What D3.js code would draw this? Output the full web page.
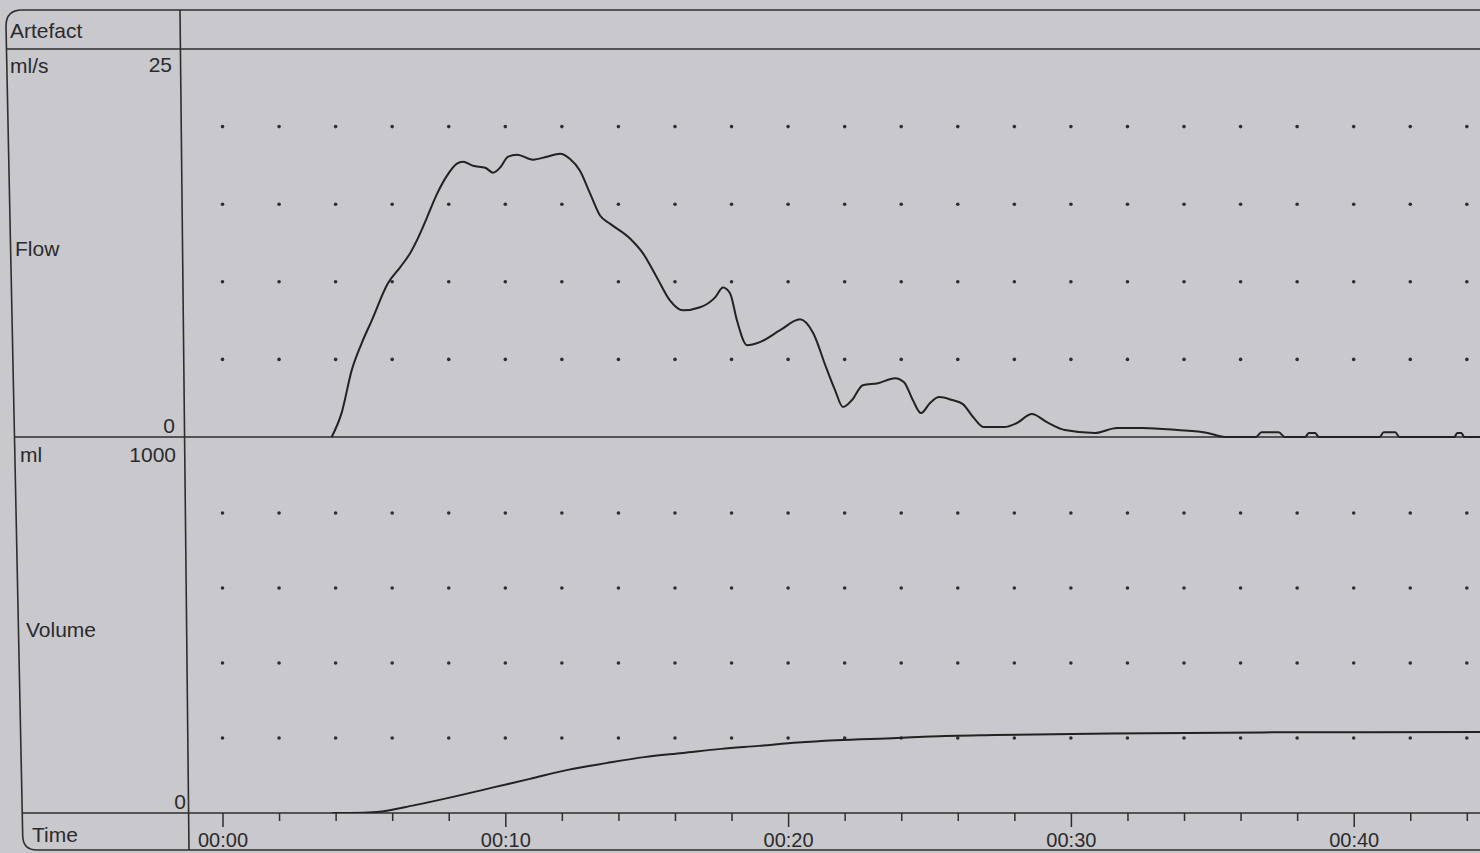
<!DOCTYPE html>
<html>
<head>
<meta charset="utf-8">
<script src="https://cdn.jsdelivr.net/npm/d3@7"></script>
<style>
  html, body { margin: 0; padding: 0; background: #c8c8cd; }
  svg { display: block; }
  text { font-family: "Liberation Sans", Arial, sans-serif; fill: #2b2b2b; }
</style>
</head>
<body>
<svg id="chart" width="1480" height="853"></svg>
<script>
(function() {
  // {{{ data
  // flow curve, seconds and ml/s
  var flowTime = [3.86, 4.21, 4.57, 4.92, 5.28, 5.85, 6.28, 6.63, 6.92, 7.23, 7.59, 7.94, 8.29, 8.50,
    8.86, 9.29, 9.57, 9.81, 10.10, 10.41, 10.98, 11.47, 11.94, 12.28, 12.64, 13.00, 13.35, 13.70,
    14.41, 14.87, 15.36, 15.82, 16.28, 16.89, 17.42, 17.70, 17.95, 18.19, 18.55, 19.00, 19.72,
    20.42, 20.89, 21.34, 21.66, 21.94, 22.26, 22.64, 23.18, 23.78, 24.10, 24.41, 24.70, 25.02,
    25.34, 25.80, 26.18, 26.54, 26.92, 27.64, 28.09, 28.62, 29.15, 29.79, 30.85, 31.63, 32.55,
    33.76, 34.84, 35.45, 36.54, 36.74, 37.35, 37.56, 38.27, 38.42, 38.63, 38.78, 40.91, 41.06,
    41.47, 41.62, 43.56, 43.66, 43.81, 43.91, 45.20];
  var flowRate = [0, 1.54, 4.31, 6.04, 7.52, 9.90, 10.93, 11.83, 12.85, 14.14, 15.68, 16.84, 17.61, 17.74,
    17.48, 17.35, 17.03, 17.35, 18.06, 18.19, 17.87, 18.06, 18.25, 17.93, 17.16, 15.68, 14.27, 13.75,
    12.79, 11.83, 10.28, 8.80, 8.16, 8.36, 9.00, 9.64, 9.25, 7.52, 5.91, 6.11, 6.88,
    7.58, 6.68, 4.50, 3.02, 1.93, 2.38, 3.34, 3.47, 3.79, 3.53, 2.38, 1.54, 2.19,
    2.57, 2.38, 2.12, 1.29, 0.64, 0.64, 0.90, 1.48, 0.96, 0.45, 0.26, 0.58, 0.58,
    0.45, 0.26, 0, 0, 0.30, 0.30, 0, 0, 0.25, 0.25, 0, 0, 0.30,
    0.30, 0, 0, 0.25, 0.25, 0, 0];

  // voided volume, seconds and ml
  var volTime = [3.86, 4.51, 5.46, 6.80, 8.15, 9.50, 10.87, 12.21, 13.57, 14.91, 16.28, 17.63, 18.97,
    20.35, 21.70, 23.85, 25.02, 27.32, 31.39, 36.79, 45.20];
  var volValue = [0, 0, 2.7, 21, 43, 67, 91, 115, 133, 149, 160, 171, 179,
    188, 194, 200, 204, 208, 212, 215, 216];

  var majorTicks = [0, 10, 20, 30, 40];
  var minorTicks = [2, 4, 6, 8, 12, 14, 16, 18, 22, 24, 26, 28, 32, 34, 36, 38, 42, 44];
  var tickLabels = ["00:00", "00:10", "00:20", "00:30", "00:40"];
  var flowGridRows = [5, 10, 15, 20];
  var volGridRows = [200, 400, 600, 800];
  var gridCols = d3.range(0, 46, 2);
  // }}}

  var W = 1480, H = 853;
  var INK = "#2e2e2e";
  var svg = d3.select("#chart");

  // {{{ scales
  var x = d3.scaleLinear().domain([0, 45.2]).range([222.5, 222.5 + 45.2 * 28.28]);
  var yFlow = d3.scaleLinear().domain([0, 25]).range([437, 49]);
  var yVol = d3.scaleLinear().domain([0, 1000]).range([813, 438]);
  // }}}

  // left border leans a little, like the photo
  function leftEdge(y) { return 6 + (y - 10) / 840 * 17; }

  // {{{ frame
  var frame = svg.append("g")
    .attr("fill", "none")
    .attr("stroke", INK)
    .attr("stroke-width", 1.6);

  frame.append("path")
    .attr("d", "M" + W + ",10 H22 Q6,10 6,26 L" + leftEdge(836) + ",836 Q" + leftEdge(850) + ",850 " +
      (leftEdge(850) + 14) + ",850 H" + W);

  [49, yFlow(0), yVol(0)].forEach(function(y) {
    frame.append("line")
      .attr("x1", leftEdge(y)).attr("x2", W)
      .attr("y1", y).attr("y2", y);
  });

  // column divider
  frame.append("line")
    .attr("x1", 180).attr("y1", 10)
    .attr("x2", 189).attr("y2", 850);
  // }}}

  // {{{ dotted grid
  var dots = svg.append("g").attr("fill", INK);
  flowGridRows.forEach(function(r) {
    dots.selectAll(null)
      .data(gridCols)
      .enter()
      .append("circle")
        .attr("cx", function(d) { return x(d); })
        .attr("cy", yFlow(r))
        .attr("r", 1.8);
  });
  volGridRows.forEach(function(r) {
    dots.selectAll(null)
      .data(gridCols)
      .enter()
      .append("circle")
        .attr("cx", function(d) { return x(d); })
        .attr("cy", yVol(r))
        .attr("r", 1.8);
  });
  // }}}

  // {{{ curves
  svg.append("clipPath").attr("id", "plotclip")
    .append("rect").attr("x", 185).attr("y", 49).attr("width", W - 185).attr("height", 764);

  var flowData = flowTime.map(function(t, i) { return { t: t, v: flowRate[i] }; });
  var volData = volTime.map(function(t, i) { return { t: t, v: volValue[i] }; });

  var flowLine = d3.line()
    .x(function(d) { return x(d.t); })
    .y(function(d) { return yFlow(d.v); })
    .curve(d3.curveMonotoneX);

  var volLine = d3.line()
    .x(function(d) { return x(d.t); })
    .y(function(d) { return yVol(d.v); })
    .curve(d3.curveMonotoneX);

  svg.append("path")
    .datum(flowData)
    .attr("clip-path", "url(#plotclip)")
    .attr("fill", "none")
    .attr("stroke", "#222")
    .attr("stroke-width", 2)
    .attr("d", flowLine);

  svg.append("path")
    .datum(volData)
    .attr("clip-path", "url(#plotclip)")
    .attr("fill", "none")
    .attr("stroke", "#222")
    .attr("stroke-width", 2)
    .attr("d", volLine);
  // }}}

  // {{{ time axis
  var major = d3.axisBottom(x)
    .tickValues(majorTicks)
    .tickSize(14)
    .tickFormat(function(d, i) { return tickLabels[i]; });

  var minor = d3.axisBottom(x)
    .tickValues(minorTicks)
    .tickSize(8)
    .tickFormat("");

  var gMajor = svg.append("g")
    .attr("transform", "translate(0," + yVol(0) + ")")
    .call(major);
  var gMinor = svg.append("g")
    .attr("transform", "translate(0," + yVol(0) + ")")
    .call(minor);

  [gMajor, gMinor].forEach(function(g) {
    g.select(".domain").remove();
    g.selectAll(".tick line").attr("stroke", INK).attr("stroke-width", 1.5);
  });
  gMajor.selectAll(".tick text")
    .attr("y", 34)
    .attr("dy", 0)
    .attr("fill", "#2b2b2b")
    .style("font-size", "20px")
    .style("font-family", "Liberation Sans, Arial, sans-serif");
  // }}}

  // {{{ left column labels
  var labels = svg.append("g").style("font-size", "21px");

  function label(txt, xPos, yPos, anchor) {
    labels.append("text")
      .attr("x", xPos)
      .attr("y", yPos)
      .attr("text-anchor", anchor || "start")
      .text(txt);
  }

  label("Artefact", 10, 38);
  label("ml/s", 10, 73);
  label("25", 172, yFlow(25) + 23, "end");
  label("Flow", 15, 256);
  label("0", 175, yFlow(0) - 4, "end");
  label("ml", 20, 462);
  label("1000", 176, yVol(1000) + 24, "end");
  label("Volume", 26, 637);
  label("0", 186, yVol(0) - 4, "end");
  label("Time", 32, 842);
  // }}}
})();
</script>
</body>
</html>
